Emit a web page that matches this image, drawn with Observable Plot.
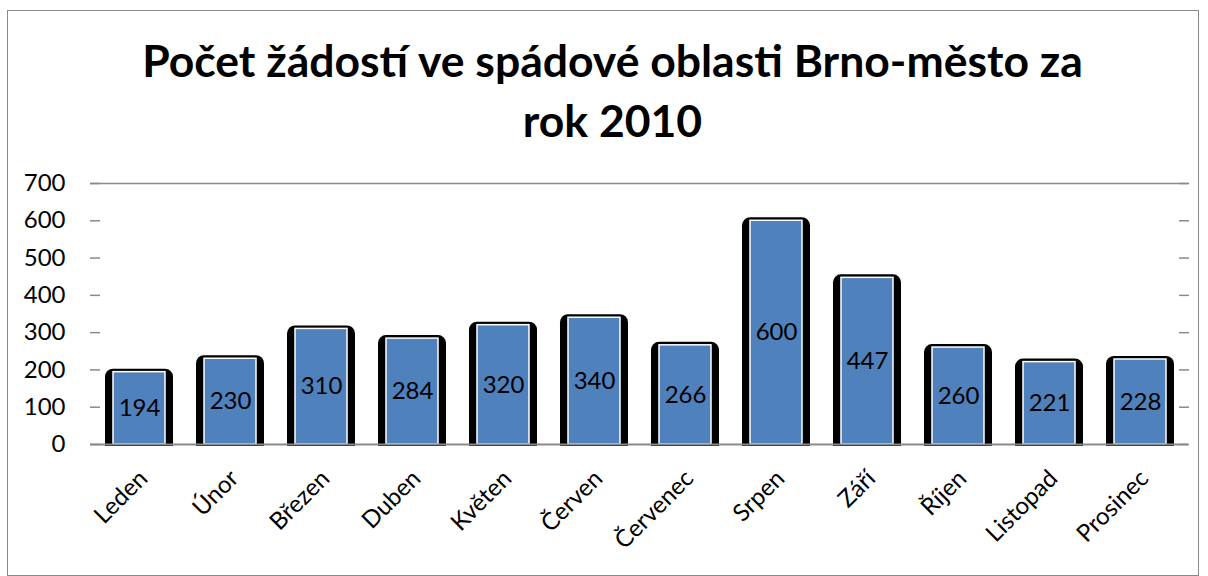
<!DOCTYPE html>
<html>
<head>
<meta charset="utf-8">
<script src="https://cdn.jsdelivr.net/npm/d3@7"></script>
<script src="https://cdn.jsdelivr.net/npm/@observablehq/plot@0.6"></script>
<style>
  html, body { margin: 0; padding: 0; background: #fff; }
  #wrap { position: relative; width: 1208px; height: 576px; overflow: hidden; font-family: Lato, "Open Sans", sans-serif; }
  #frame { position: absolute; left: 7px; top: 10px; width: 1192px; height: 566px; border: 1px solid #8a8a8a; box-sizing: border-box; }
  #title { position: absolute; left: 0; top: 30px; width: 1225px; text-align: center; font-weight: bold; font-size: 44.5px; line-height: 60px; color: #000; }
  #chart { position: absolute; left: 0; top: 160px; }
</style>
</head>
<body>
<div id="wrap">
  <div id="frame"></div>
  <div id="title">Počet žádostí ve spádové oblasti Brno-město za<br>rok 2010</div>
  <div id="chart"></div>
</div>
<script>
const months = ["Leden", "Únor", "Březen", "Duben", "Květen", "Červen", "Červenec", "Srpen", "Září", "Říjen", "Listopad", "Prosinec"];
const values = [194, 230, 310, 284, 320, 340, 266, 600, 447, 260, 221, 228];
const yTicks = [0, 100, 200, 300, 400, 500, 600, 700];

const data = months.map((m, i) => ({month: m, value: values[i]}));

const plot = Plot.plot({
  width: 1208,
  height: 416,
  marginTop: 23,
  marginBottom: 132,
  marginLeft: 90,
  marginRight: 20,
  style: {fontFamily: "Lato, 'Open Sans', sans-serif", background: "transparent"},
  x: {domain: months, paddingInner: 0.43, paddingOuter: 0.215, label: null},
  y: {domain: [0, 700], label: null},
  marks: [
    Plot.ruleY([700], {stroke: "#8a8a8a", strokeWidth: 1.5}),
    Plot.axisY({anchor: "left", ticks: yTicks, tickSize: 10, dx: 10, tickPadding: 25, fontSize: 24, stroke: "#8a8a8a", strokeWidth: 1.5, strokeOpacity: 1, color: "#000", label: null, tickFormat: d => String(d)}),
    Plot.axisY({anchor: "right", ticks: yTicks, tickSize: 10, dx: -10, stroke: "#8a8a8a", strokeWidth: 1.5, strokeOpacity: 1, text: null, label: null}),
    Plot.barY(data, {x: "month", y: "value", fill: "#000", insetLeft: -8, insetRight: -8, insetTop: -3, rx: 8}),
    Plot.barY(data, {x: "month", y: "value", fill: "#000", insetLeft: -8, insetRight: -8, insetTop: 12, insetBottom: -2}),
    Plot.barY(data, {x: "month", y: "value", fill: "#4F81BD", stroke: "#fff", strokeWidth: 1.5}),
    Plot.ruleY([0], {stroke: "#8a8a8a", strokeWidth: 2}),
    Plot.text(data, {x: "month", y: d => d.value / 2, text: d => String(d.value), fontSize: 24, fill: "#000"}),
    Plot.axisX({tickRotate: -45, tickSize: 0, tickPadding: 30, fontSize: 24, color: "#000", label: null, dx: 4})
  ]
});
document.getElementById("chart").appendChild(plot);
</script>
</body>
</html>
